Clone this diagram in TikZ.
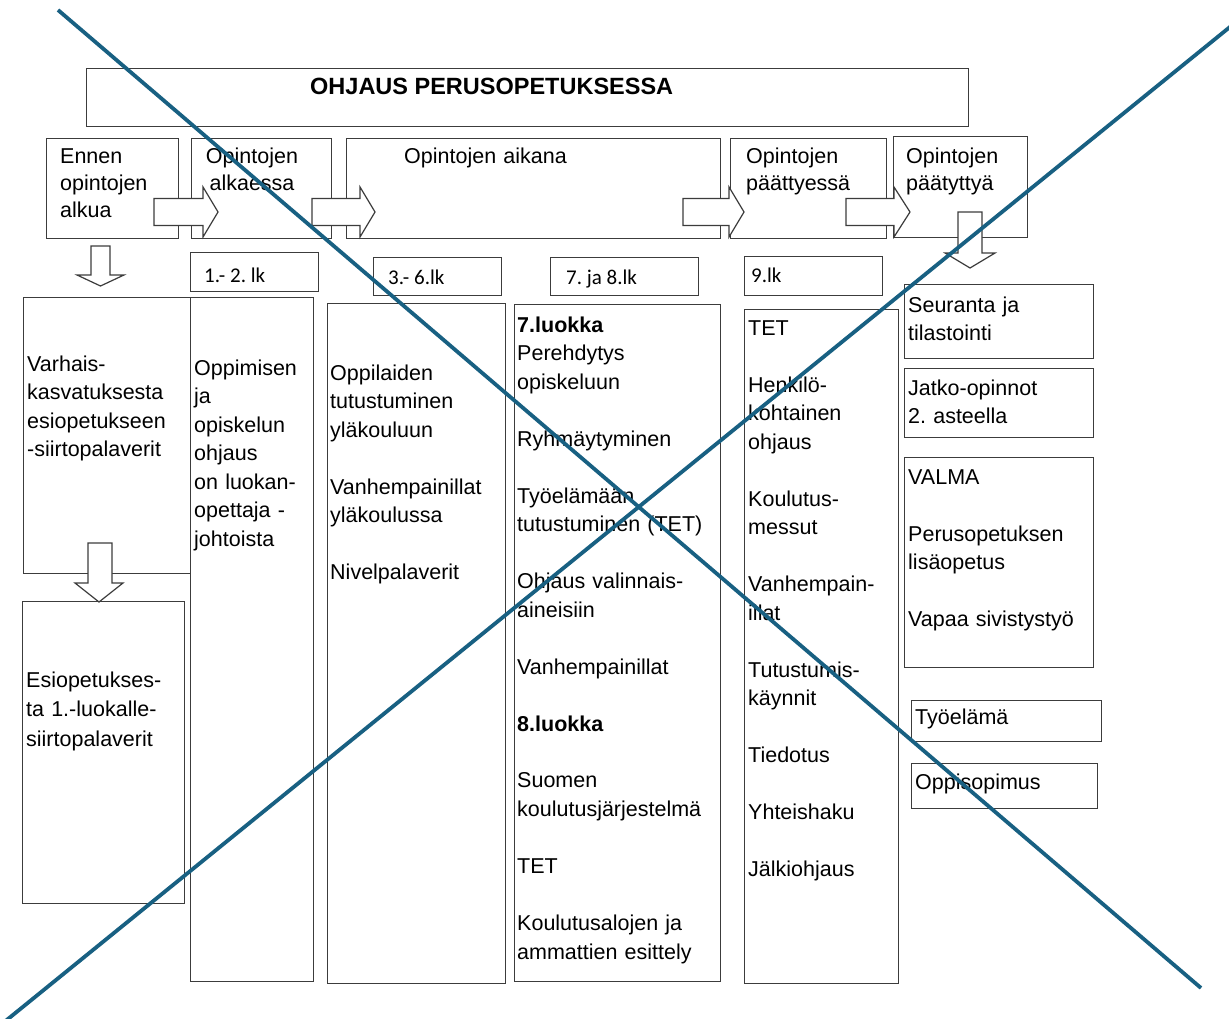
\documentclass[tikz,border=0pt]{standalone}
\usepackage{fontspec}
\setmainfont{Liberation Sans}
\newfontfamily\lkfont{Carlito}
\usepackage{tikz}
\frenchspacing

\definecolor{boxgray}{RGB}{60,60,60}
\definecolor{crossblue}{RGB}{24,96,130}

\begin{document}
\begin{tikzpicture}[yscale=-1, x=1pt, y=1pt,
		box/.style={draw=boxgray, line width=1.2pt, fill=white, inner sep=0pt, anchor=north west},
		txt/.style={anchor=base west, inner sep=0pt, text width=250pt, align=left, font=\fontsize{21.5}{28.5}\selectfont},
		toptxt/.style={txt, font=\fontsize{21.5}{27}\selectfont},
		lk/.style={anchor=base west, inner sep=0pt, font=\lkfont\fontsize{21}{25}\selectfont},
		blockarrow/.style={draw=boxgray, line width=1.2pt, fill=white, line join=miter},
		cross/.style={draw=crossblue, line width=3.8pt}]

		\fill[white] (0,0) rectangle (1229,1019);
		\useasboundingbox (0,0) rectangle (1229,1019);

		% otsikko ja vaiheet
		\node [box, minimum width=882pt, minimum height=58pt]	(title)				at (86,68) {};
		\node [box, minimum width=132pt, minimum height=100pt]	(ennen)				at (46,138) {};
		\node [box, minimum width=140pt, minimum height=100pt]	(alkaessa)		at (191,138) {};
		\node [box, minimum width=374pt, minimum height=100pt]	(aikana)			at (346,138) {};
		\node [box, minimum width=156pt, minimum height=100pt]	(paattyessa)	at (730,138) {};
		\node [box, minimum width=134pt, minimum height=101pt]	(paatyttya)		at (893,136) {};

		% luokat
		\node [box, minimum width=128pt, minimum height=39pt]	(lk12)	at (190,252) {};
		\node [box, minimum width=128pt, minimum height=38pt]	(lk36)	at (373,257) {};
		\node [box, minimum width=148pt, minimum height=38pt]	(lk78)	at (550,257) {};
		\node [box, minimum width=138pt, minimum height=39pt]	(lk9)		at (744,256) {};

		% sisallot
		\node [box, minimum width=167pt, minimum height=276pt]	(varhais)			at (23,297) {};
		\node [box, minimum width=162pt, minimum height=302pt]	(esiop)				at (22,601) {};
		\node [box, minimum width=123pt, minimum height=684pt]	(oppimisen)		at (190,297) {};
		\node [box, minimum width=178pt, minimum height=680pt]	(oppilaiden)	at (327,303) {};
		\node [box, minimum width=206pt, minimum height=677pt]	(luokat78)		at (514,304) {};
		\node [box, minimum width=154pt, minimum height=674pt]	(luokka9)			at (744,309) {};
		\node [box, minimum width=189pt, minimum height=74pt]	(seuranta)		at (904,284) {};
		\node [box, minimum width=189pt, minimum height=69pt]	(jatko)				at (904,368) {};
		\node [box, minimum width=189pt, minimum height=210pt]	(valma)				at (904,457) {};
		\node [box, minimum width=190pt, minimum height=41pt]	(tyoelama)		at (911,700) {};
		\node [box, minimum width=186pt, minimum height=45pt]	(oppisopimus)	at (911,763) {};

		% nuolet
		\draw [blockarrow] (154,198.5) -- ++(49,0) -- ++(0,-11.5) -- ++(15,25) -- ++(-15,25) -- ++(0,-11.5) -- ++(-49,0) -- cycle;
		\draw [blockarrow] (312,198.5) -- ++(48,0) -- ++(0,-11.5) -- ++(15,25) -- ++(-15,25) -- ++(0,-11.5) -- ++(-48,0) -- cycle;
		\draw [blockarrow] (683,198.5) -- ++(46,0) -- ++(0,-11.5) -- ++(15,25) -- ++(-15,25) -- ++(0,-11.5) -- ++(-46,0) -- cycle;
		\draw [blockarrow] (846,198.5) -- ++(48,0) -- ++(0,-11.5) -- ++(16,25) -- ++(-16,25) -- ++(0,-11.5) -- ++(-48,0) -- cycle;
		\draw [blockarrow] (91,246) -- ++(19,0) -- ++(0,29) -- ++(14,0) -- ++(-23.5,11) -- ++(-23.5,-11) -- ++(14,0) -- cycle;
		\draw [blockarrow] (88,543) -- ++(24,0) -- ++(0,40) -- ++(11,0) -- ++(-24,19) -- ++(-24,-19) -- ++(13,0) -- cycle;
		\draw [blockarrow] (958,212) -- ++(24,0) -- ++(0,41) -- ++(13,0) -- ++(-25,15) -- ++(-25,-15) -- ++(13,0) -- cycle;

		% tekstit
		\node [anchor=base west, inner sep=0pt, font=\bfseries\fontsize{23.5}{28}\selectfont] (titleT) at (310,95) {OHJAUS PERUSOPETUKSESSA};
		\node [toptxt]	(ennenT)				at (60,164)		{Ennen\\opintojen\\alkua};
		\node [toptxt, text width=130pt, align=center, anchor=base]	(alkaessaT)	at (252,164)	{Opintojen\\alkaessa};
		\node [toptxt]	(aikanaT)				at (404,164)	{Opintojen aikana};
		\node [toptxt]	(paattyessaT)		at (746,164)	{Opintojen\\päättyessä};
		\node [toptxt]	(paatyttyaT)		at (906,164)	{Opintojen\\päätyttyä};

		\node [lk]	(lk12T)	at (204,282)	{1.- 2. lk};
		\node [lk]	(lk36T)	at (388,284)	{3.- 6.lk};
		\node [lk]	(lk78T)	at (566,284)	{7. ja 8.lk};
		\node [lk]	(lk9T)	at (751,283)	{9.lk};

		\node [txt]	(varhaisT)		at (27,371)		{Varhais-\\kasvatuksesta\\esiopetukseen\\-siirtopalaverit};
		\node [txt, font=\fontsize{21.5}{29.5}\selectfont]	(esiopT)	at (26,687)	{Esiopetukses-\\ta 1.-luokalle-\\siirtopalaverit};
		\node [txt]	(oppimisenT)	at (194,375)	{Oppimisen\\ja\\opiskelun\\ohjaus\\on luokan-\\opettaja -\\johtoista};
		\node [txt]	(oppilaidenT)	at (330,380)	{Oppilaiden\\tutustuminen\\yläkouluun\\[\baselineskip]Vanhempainillat\\yläkoulussa\\[\baselineskip]Nivelpalaverit};
		\node [txt]	(luokat78T)		at (517,332)	{\textbf{7.luokka}\\Perehdytys\\opiskeluun\\[\baselineskip]Ryhmäytyminen\\[\baselineskip]Työelämään\\tutustuminen (TET)\\[\baselineskip]Ohjaus valinnais-\\aineisiin\\[\baselineskip]Vanhempainillat\\[\baselineskip]\textbf{8.luokka}\\[\baselineskip]Suomen\\koulutusjärjestelmä\\[\baselineskip]TET\\[\baselineskip]Koulutusalojen ja\\ammattien esittely};
		\node [txt]	(luokka9T)		at (748,335)	{TET\\[\baselineskip]Henkilö-\\kohtainen\\ohjaus\\[\baselineskip]Koulutus-\\messut\\[\baselineskip]Vanhempain-\\illat\\[\baselineskip]Tutustumis-\\käynnit\\[\baselineskip]Tiedotus\\[\baselineskip]Yhteishaku\\[\baselineskip]Jälkiohjaus};
		\node [txt]	(seurantaT)		at (908,312)	{Seuranta ja\\tilastointi};
		\node [txt]	(jatkoT)			at (908,395)	{Jatko-opinnot\\2. asteella};
		\node [txt]	(valmaT)			at (908,484)	{VALMA\\[\baselineskip]Perusopetuksen\\lisäopetus\\[\baselineskip]Vapaa sivistystyö};
		\node [txt]	(tyoelamaT)		at (915,724)	{Työelämä};
		\node [txt]	(oppisopimusT)	at (915,789)	{Oppisopimus};

		% risti
		\begin{scope}
			\clip (0,0) rectangle (1229,1019);
			\draw [cross] (58,10) -- (1201,988);
			\draw [cross] (1240,18.8) -- (5,1021.4);
		\end{scope}

	\end{tikzpicture}
\end{document}
